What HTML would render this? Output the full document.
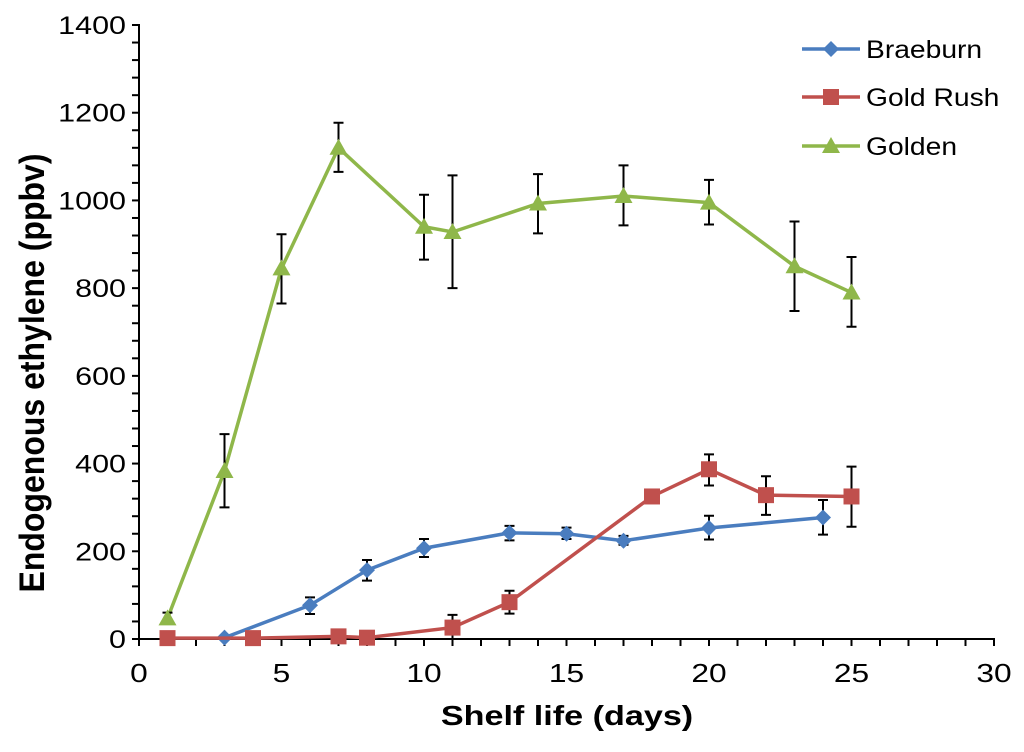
<!DOCTYPE html>
<html><head><meta charset="utf-8"><style>
body{margin:0;background:#fff;}
svg text{font-family:"Liberation Sans",Arial,sans-serif;}
</style></head><body>
<svg id="chart" width="1024" height="747"></svg>
<script>
const xTicks=[0,5,10,15,20,25,30];
const yTicks=[0,200,400,600,800,1000,1200,1400];
const goldenX=[1,3,5,7,10,11,14,17,20,23,25];
const goldenY=[47,383,845,1120,940,928,993,1010,995,850,790];
const goldenLo=[35,300,765,1065,865,800,925,943,945,748,712];
const goldenHi=[60,467,923,1177,1013,1057,1060,1080,1047,952,871];
const braeX=[3,6,8,10,13,15,17,20,24];
const braeY=[3,77,157,207,242,240,224,253,277];
const braeLo=[0,57,133,187,225,228,215,227,238];
const braeHi=[6,95,180,228,258,254,235,281,317];
const rushX=[1,4,7,8,11,13,18,20,22,25];
const rushY=[2,2,6,3,26,84,325,387,328,325];
const rushLo=[0,0,0,0,0,58,325,350,283,256];
const rushHi=[4,4,12,6,55,110,325,421,371,393];
const NS="http://www.w3.org/2000/svg";
const svg=document.getElementById('chart');
const X=v=>139+v*(994-139)/30;
const Y=v=>639-v*(639-25)/1400;
const SX=1.22;
function mk(t,a,p){const e=document.createElementNS(NS,t);for(const k in a)e.setAttribute(k,a[k]);(p||svg).appendChild(e);return e;}
function txt(s,x,y,size,anchor,extra,p){
 const e=mk('text',Object.assign({x:0,y:0,'text-anchor':anchor,'font-size':size,transform:`translate(${x},${y}) scale(${SX},1)`},extra||{}),p);
 e.textContent=s;return e;
}
let ax=mk('line',{x1:139,y1:24,x2:139,y2:640,stroke:'#000','stroke-width':2});


ax=mk('line',{x1:138,y1:639,x2:995,y2:639,stroke:'#000','stroke-width':2});


for(let v=0;v<=1400;v+=40){
 mk('line',{x1:132,y1:Y(v),x2:139,y2:Y(v),stroke:'#000','stroke-width':2});
}
yTicks.forEach(v=>{
 const t=txt(String(v),126,Y(v)+9,25,'end');
 
 
});
for(let v=0;v<=30;v+=1){
 mk('line',{x1:X(v),y1:639,x2:X(v),y2:646,stroke:'#000','stroke-width':2});
}
xTicks.forEach(v=>{
 const t=txt(String(v),X(v),682,26,'middle');
 
 
});
let t=txt('Shelf life (days)',567,725,28,'middle',{'font-weight':'bold'});


t=mk('text',{x:0,y:0,'text-anchor':'middle','font-size':32,'font-weight':'bold',transform:'translate(44,373) rotate(-90) scale(1,1.1)'});t.textContent='Endogenous ethylene (ppbv)';


function marker(type,cx,cy,col,g){
 if(type==='d')return mk('polygon',{points:`${cx},${cy-8} ${cx+8},${cy} ${cx},${cy+8} ${cx-8},${cy}`,fill:col},g);
 if(type==='s')return mk('rect',{x:cx-8,y:cy-8,width:16,height:16,fill:col},g);
 return mk('polygon',{points:`${cx},${cy-9} ${cx+9},${cy+7} ${cx-9},${cy+7}`,fill:col},g);
}
function series(name,xs,ys,lo,hi,col,type){
 const g=mk('g',{});
 
 
 mk('polyline',{points:xs.map((x,i)=>X(x)+','+Y(ys[i])).join(' '),fill:'none',stroke:col,'stroke-width':3.5},g);
 xs.forEach((x,i)=>{
  if(hi[i]-lo[i]>8){
   mk('path',{d:`M${X(x)},${Y(lo[i])}V${Y(hi[i])}M${X(x)-5},${Y(lo[i])}h10M${X(x)-5},${Y(hi[i])}h10`,stroke:'#000','stroke-width':2,fill:'none'},g);
  }
  const m=marker(type,X(x),Y(ys[i]),col,g);
  
  
 });
}
series('golden',goldenX,goldenY,goldenLo,goldenHi,'#8fb74a','t');
series('braeburn',braeX,braeY,braeLo,braeHi,'#4a7dbf','d');
series('gold-rush',rushX,rushY,rushLo,rushHi,'#c0504d','s');
const leg=[['Braeburn','#4a7dbf','d',49],['Gold Rush','#c0504d','s',97],['Golden','#8fb74a','t',146]];
leg.forEach(l=>{
 const g=mk('g',{});
 
 
 mk('line',{x1:802,y1:l[3],x2:860,y2:l[3],stroke:l[1],'stroke-width':3.5},g);
 marker(l[2],831,l[3],l[1],g);
 const tt=mk('text',{x:0,y:0,'font-size':25,transform:`translate(866,${l[3]+9}) scale(1.13,1)`},g);tt.textContent=l[0];
});
</script>
</body></html>
